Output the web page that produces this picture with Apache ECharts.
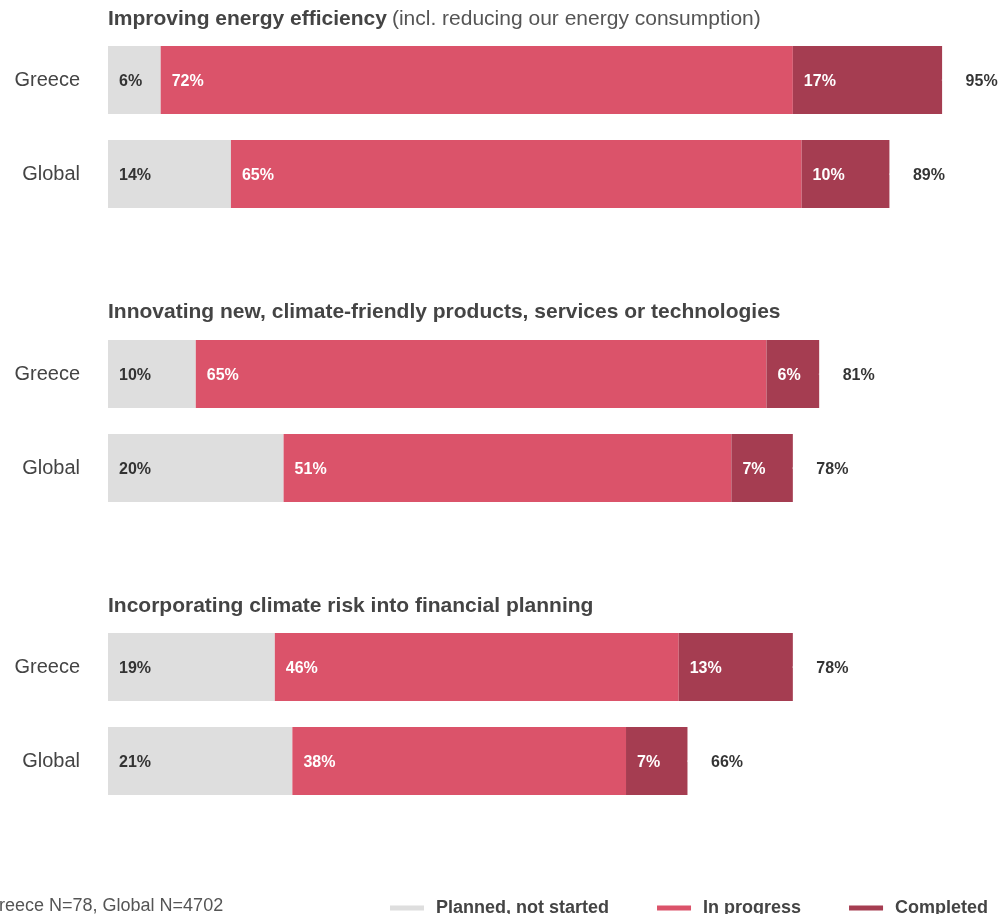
<!DOCTYPE html>
<html>
<head>
<meta charset="utf-8">
<script src="https://cdn.jsdelivr.net/npm/echarts@6/dist/echarts.min.js"></script>
<style>
  html, body { margin: 0; padding: 0; background: #fff; }
  #chart { width: 999px; height: 914px; }
</style>
</head>
<body>
<div id="chart"></div>
<script>
// Survey rows and panel headings
const categories = ['Greece', 'Global'];
const panelBold = [
  'Improving energy efficiency',
  'Innovating new, climate-friendly products, services or technologies',
  'Incorporating climate risk into financial planning'
];
const panelNote = ['(incl. reducing our energy consumption)', '', ''];

// Share of respondents (%) per panel, ordered [Greece, Global]
const planned    = [[6, 14], [10, 20], [19, 21]];
const inProgress = [[72, 65], [65, 51], [46, 38]];
const completed  = [[17, 10], [6, 7], [13, 7]];

const seriesNames = ['Planned, not started', 'In progress', 'Completed'];
const footnote = 'Greece N=78, Global N=4702';

const FONT = '"Liberation Sans", Arial, Helvetica, sans-serif';
const COLORS = ['#dedede', '#db536a', '#a53d51'];
const LABEL_COLORS = ['#333333', '#ffffff', '#ffffff'];
const gridTops = [33, 327, 620];
const titleTops = [9, 302, 596];

const grids = [], xAxes = [], yAxes = [], series = [], titles = [];

gridTops.forEach((top, p) => {
  grids.push({ left: 108, width: 878, top: top, height: 188 });
  xAxes.push({ gridIndex: p, type: 'value', min: 0, max: 100, show: false });
  yAxes.push({
    gridIndex: p, type: 'category', data: categories, inverse: true,
    axisLine: { show: false }, axisTick: { show: false }, splitLine: { show: false },
    axisLabel: { color: '#444', fontSize: 20, fontFamily: FONT, margin: 28 }
  });

  const text = panelNote[p]
    ? '{b|' + panelBold[p] + '} {n|' + panelNote[p] + '}'
    : '{b|' + panelBold[p] + '}';
  titles.push({
    text: text, left: 108, top: titleTops[p], padding: 0,
    textStyle: {
      rich: {
        b: { fontFamily: FONT, fontWeight: 'bold', fontSize: 21, color: '#444' },
        n: { fontFamily: FONT, fontWeight: 'normal', fontSize: 21, color: '#555' }
      }
    }
  });

  [planned[p], inProgress[p], completed[p]].forEach((vals, s) => {
    series.push({
      name: seriesNames[s], type: 'bar', stack: 'p' + p,
      xAxisIndex: p, yAxisIndex: p,
      barWidth: 68, data: vals,
      itemStyle: { color: COLORS[s] },
      label: {
        show: true, position: 'insideLeft', distance: 11, offset: [0, 2],
        formatter: '{c}%', color: LABEL_COLORS[s],
        fontFamily: FONT, fontWeight: 'bold', fontSize: 16
      },
      emphasis: { disabled: true }, silent: true
    });
  });

  // Total of the three stages, printed just past each bar's end
  const totals = categories.map((c, i) => [planned[p][i] + inProgress[p][i] + completed[p][i], c]);
  series.push({
    name: 'total', type: 'scatter', xAxisIndex: p, yAxisIndex: p,
    data: totals, symbolSize: 1, itemStyle: { color: '#ffffff' },
    label: {
      show: true, position: 'right', distance: 23, offset: [0, 2],
      formatter: (d) => d.value[0] + '%',
      color: '#000000', fontFamily: FONT, fontWeight: 'bold', fontSize: 16
    },
    emphasis: { disabled: true }, silent: true
  });
});

const chart = echarts.init(document.getElementById('chart'), null, { renderer: 'canvas' });
chart.setOption({
  animation: false,
  backgroundColor: '#ffffff',
  title: titles,
  grid: grids,
  xAxis: xAxes,
  yAxis: yAxes,
  series: series,
  legend: {
    data: seriesNames, left: 390, top: 899, padding: 0, icon: 'rect',
    itemWidth: 34, itemHeight: 5, itemGap: 48,
    selectedMode: false,
    textStyle: { fontFamily: FONT, fontWeight: 'bold', fontSize: 18, color: '#444', padding: [0, 0, 0, 7] }
  },
  graphic: [{
    type: 'text', left: -15, top: 897,
    style: { text: footnote, fontFamily: FONT, fontSize: 18, fill: '#555' }
  }]
});
</script>
</body>
</html>
